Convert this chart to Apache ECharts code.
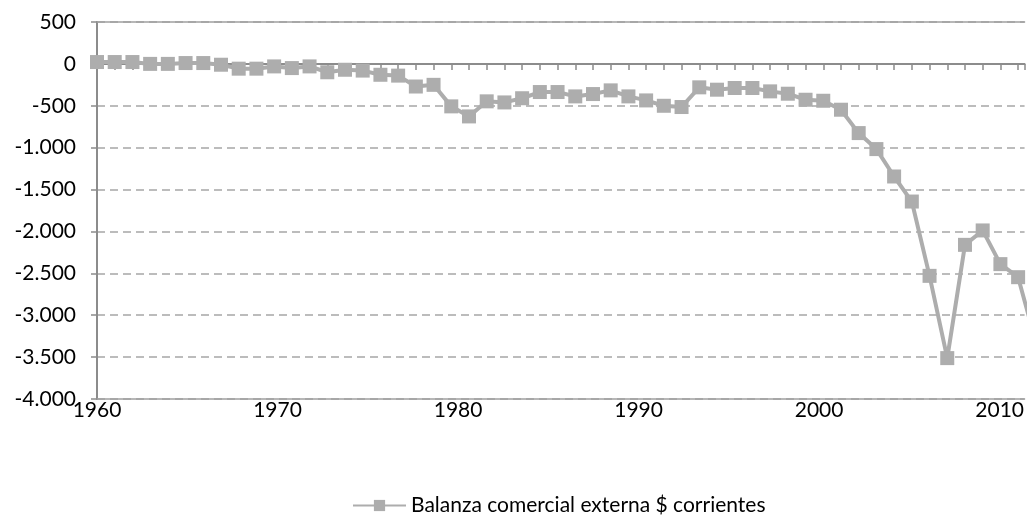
<!DOCTYPE html>
<html>
<head>
<meta charset="utf-8">
<script src="https://cdn.jsdelivr.net/npm/echarts@6/dist/echarts.min.js"></script>
<style>
html,body{margin:0;padding:0;background:#fff;}
#chart{width:1027px;height:515px;}
</style>
</head>
<body>
<div id="chart"></div>
<script>
var years = [];
for (var y = 1960; y <= 2013; y++) years.push(y);

var seriesName = 'Balanza comercial externa $ corrientes';

var balanza = [
  22, 22, 22, 0, 0, 10, 10, -10, -57, -57,
  -30, -50, -30, -100, -70, -80, -130, -140, -270, -250,
  -507, -627, -447, -460, -410, -336, -336, -388, -360, -316,
  -388, -436, -500, -515, -280, -308, -288, -288, -328, -356,
  -428, -440, -547, -826, -1017, -1344, -1643, -2530, -3512, -2160,
  -1988, -2390, -2546, -3320
];

var xLabels = [1960, 1970, 1980, 1990, 2000, 2010];
var yTicks = { min: -4000, max: 500, interval: 500 };

function fmt(v) {
  var s = Math.abs(v).toString().replace(/\B(?=(\d{3})+(?!\d))/g, '.');
  return (v < 0 ? '-' : '') + s;
}

var pairs = years.map(function (yr, i) { return [yr, balanza[i]]; });

var chart = echarts.init(document.getElementById('chart'), null, {renderer: 'canvas'});
var FONT = 'Lato';
var AX = '#8c8c8c';
chart.setOption({
  animation: false,
  backgroundColor: '#ffffff',
  grid: { left: 97, top: 22, right: 0, height: 377 },
  legend: {
    left: 347, top: 490,
    itemWidth: 53, itemHeight: 14, itemGap: 10,
    textStyle: { fontFamily: FONT, fontSize: 21, color: '#000' },
    data: [seriesName]
  },
  xAxis: [{
    type: 'value',
    min: 1960, max: 1960 + 930 / 17.76, interval: 1,
    position: 'bottom',
    axisLine: { onZero: true, lineStyle: { color: AX, width: 2 } },
    axisTick: { show: true, length: 6, lineStyle: { color: AX, width: 1.5 } },
    axisLabel: { show: false },
    splitLine: { show: false }
  }, {
    type: 'value',
    min: 1960, max: 1960 + 930 / 18.1, interval: 10,
    position: 'bottom',
    axisLine: { show: true, onZero: false, lineStyle: { color: '#a0a0a0', width: 1.5 } },
    axisTick: { show: false },
    axisLabel: {
      show: true, margin: 1, fontFamily: FONT, fontSize: 21, color: '#000',
      showMaxLabel: false,
      formatter: function (v) { return xLabels.indexOf(v) >= 0 ? String(v) : ''; }
    },
    splitLine: { show: false }
  }, {
    type: 'value',
    min: 1960, max: 2012,
    position: 'top',
    axisLine: { show: true, onZero: false, lineStyle: { color: '#a0a0a0', width: 1.5 } },
    axisTick: { show: false },
    axisLabel: { show: false },
    splitLine: { show: false }
  }],
  yAxis: {
    type: 'value',
    min: yTicks.min, max: yTicks.max, interval: yTicks.interval,
    axisLine: { show: true, lineStyle: { color: AX, width: 2 } },
    axisTick: { show: true, length: 6, lineStyle: { color: AX, width: 1.5 } },
    axisLabel: { margin: 21, fontFamily: FONT, fontSize: 21, color: '#000', formatter: fmt },
    splitLine: { show: true, lineStyle: { color: '#a6a6a6', width: 1.5, type: [8, 5] } }
  },
  series: [{
    name: seriesName,
    type: 'line',
    xAxisIndex: 0,
    data: pairs,
    symbol: 'rect',
    symbolSize: 14,
    showAllSymbol: true,
    lineStyle: { color: '#adadad', width: 4 },
    itemStyle: { color: '#adadad' },
    z: 5
  }]
});
</script>
</body>
</html>
